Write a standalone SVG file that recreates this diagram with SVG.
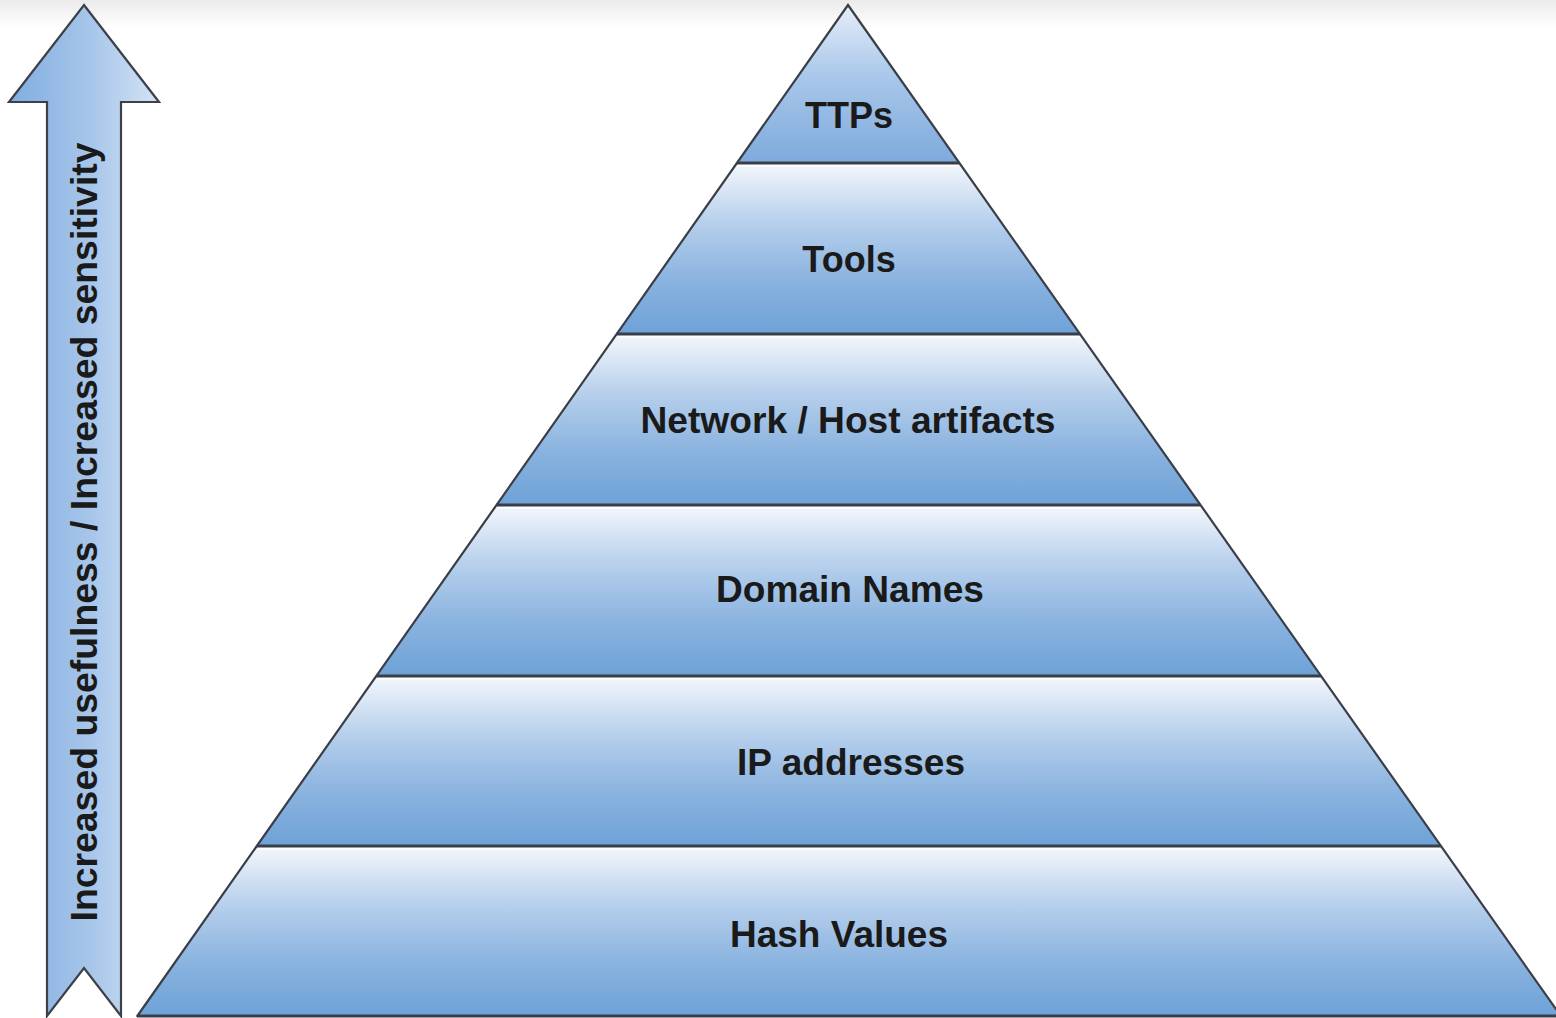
<svg xmlns="http://www.w3.org/2000/svg" width="1556" height="1018" viewBox="0 0 1556 1018">
  <defs>
    <linearGradient id="topHaze" x1="0" y1="0" x2="0" y2="1">
      <stop offset="0" stop-color="#ebebeb"/>
      <stop offset="1" stop-color="#ffffff"/>
    </linearGradient>
    <linearGradient id="bandFill" x1="0" y1="0" x2="0" y2="1">
      <stop offset="0" stop-color="#f4f7fc"/>
      <stop offset="0.35" stop-color="#b6cfec"/>
      <stop offset="0.7" stop-color="#88b2df"/>
      <stop offset="1" stop-color="#6ea2d7"/>
    </linearGradient>
    <linearGradient id="apexFill" x1="0" y1="0" x2="0" y2="1">
      <stop offset="0" stop-color="#e6eef9"/>
      <stop offset="0.45" stop-color="#a9c7ea"/>
      <stop offset="1" stop-color="#7eaadc"/>
    </linearGradient>
    <linearGradient id="arrowFill" x1="0" y1="0" x2="1" y2="0">
      <stop offset="0" stop-color="#80ade0"/>
      <stop offset="0.55" stop-color="#a8c6ea"/>
      <stop offset="1" stop-color="#d3e3f5"/>
    </linearGradient>
    <style>
      .band { fill: url(#bandFill); stroke: none; }
      .apex { fill: url(#apexFill); stroke: none; }
      .edge { stroke: #3a3e48; stroke-width: 2.2; fill: none; stroke-linecap: round; }
      .divider { stroke: #3a3e48; stroke-width: 3; }
      .gloss { stroke: #ffffff; stroke-width: 2; }
      .label { font-family: "Liberation Sans", Arial, sans-serif; font-weight: bold; font-size: 36px; fill: #1a1a1a; text-anchor: middle; }
    </style>
  </defs>

  <!-- page background with faint shading along the top edge -->
  <rect x="0" y="0" width="1556" height="1018" fill="#ffffff"/>
  <rect x="0" y="0" width="1556" height="28" fill="url(#topHaze)"/>

  <!-- vertical arrow on the left -->
  <g id="scale-arrow">
    <polygon points="84,5 159,102 121,102 121,1016 84,968 47,1016 47,102 9,102"
             fill="url(#arrowFill)" stroke="#3c4048" stroke-width="2.2" stroke-linejoin="miter"/>
    <text class="label" transform="translate(97,532) rotate(-90)" textLength="779" lengthAdjust="spacingAndGlyphs">Increased usefulness / Increased sensitivity</text>
  </g>

  <!-- pyramid tiers, apex to base -->
  <g id="tier-ttps">
    <polygon class="apex" points="848,5 959.4,163 736.9,163"/>
    <text class="label" x="849" y="128">TTPs</text>
  </g>
  <g id="tier-tools">
    <polygon class="band" points="736.9,163 959.4,163 1079.9,334 616.7,334"/>
    <text class="label" x="849" y="272">Tools</text>
  </g>
  <g id="tier-artifacts">
    <polygon class="band" points="616.7,334 1079.9,334 1200.5,505 496.5,505"/>
    <text class="label" x="848" y="433" textLength="415" lengthAdjust="spacingAndGlyphs">Network / Host artifacts</text>
  </g>
  <g id="tier-domains">
    <polygon class="band" points="496.5,505 1200.5,505 1321.1,676 376.3,676"/>
    <text class="label" x="850" y="602" textLength="268" lengthAdjust="spacingAndGlyphs">Domain Names</text>
  </g>
  <g id="tier-ip">
    <polygon class="band" points="376.3,676 1321.1,676 1440.9,846 256.8,846"/>
    <text class="label" x="851" y="775" textLength="228" lengthAdjust="spacingAndGlyphs">IP addresses</text>
  </g>
  <g id="tier-hash">
    <polygon class="band" points="256.8,846 1440.9,846 1560.8,1016 137.3,1016"/>
    <text class="label" x="839" y="947" textLength="218" lengthAdjust="spacingAndGlyphs">Hash Values</text>
  </g>

  <!-- tier dividers and pyramid outline -->
  <g id="outline">
    <line class="gloss" x1="738" y1="165.5" x2="958" y2="165.5"/>
    <line class="gloss" x1="618" y1="336.5" x2="1079" y2="336.5"/>
    <line class="gloss" x1="498" y1="507.5" x2="1200" y2="507.5"/>
    <line class="gloss" x1="378" y1="678.5" x2="1320" y2="678.5"/>
    <line class="gloss" x1="258" y1="848.5" x2="1440" y2="848.5"/>
    <line class="divider" x1="736.9" y1="163" x2="959.4" y2="163"/>
    <line class="divider" x1="616.7" y1="334" x2="1079.9" y2="334"/>
    <line class="divider" x1="496.5" y1="505" x2="1200.5" y2="505"/>
    <line class="divider" x1="376.3" y1="676" x2="1321.1" y2="676"/>
    <line class="divider" x1="256.8" y1="846" x2="1440.9" y2="846"/>
    <line class="divider" x1="137.3" y1="1016" x2="1556" y2="1016" stroke-width="4"/>
    <polyline class="edge" points="137.3,1016 848,5 1560.8,1016"/>
  </g>
</svg>
